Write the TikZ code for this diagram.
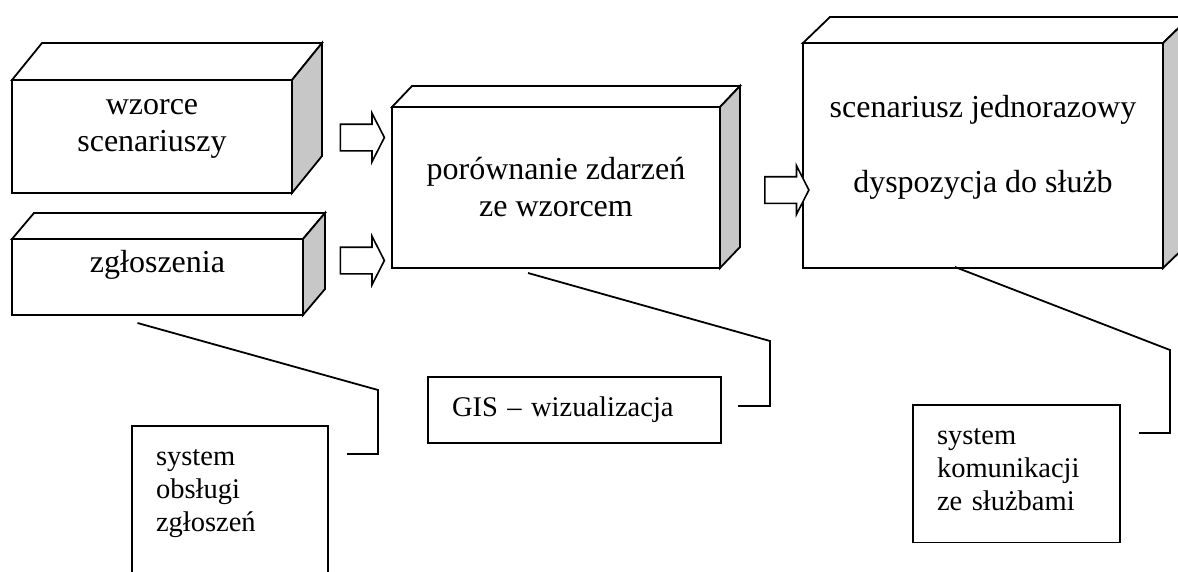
\documentclass[tikz,border=0pt]{standalone}
\usepackage{fontspec}
\setmainfont{Liberation Serif}
\usetikzlibrary{shapes.arrows,calc}

\definecolor{sidegray}{gray}{0.78}

\tikzset{
  block/.style={draw, line width=1.8pt, outer sep=0pt, inner sep=4pt, align=center, fill=white, font=\fontsize{32}{37}\selectfont},
  smallbox/.style={draw, line width=1.8pt, outer sep=0pt, anchor=north west, align=left, inner xsep=24pt, inner ysep=23pt, font=\fontsize{28.5}{33}\selectfont},
  face/.style={draw, line width=1.8pt, line join=miter},
  flowarrow/.style={single arrow, draw, fill=white, line width=1.6pt, inner sep=0pt, inner ysep=12.5pt, minimum height=44pt, single arrow head extend=11pt, single arrow tip angle=126},
  callout/.style={line width=1.8pt},
}

% top and side face of a block: node, dx, dy
\newcommand{\blockdepth}[3]{%
  \draw[face, fill=white] (#1.north west) -- ++(#2,-#3) -- ([shift={(#2,-#3)}]#1.north east) -- (#1.north east) -- cycle;
  \draw[face, fill=sidegray] (#1.north east) -- ([shift={(#2,-#3)}]#1.north east) -- ([shift={(#2,-#3)}]#1.south east) -- (#1.south east) -- cycle;
}

\begin{document}
\begin{tikzpicture}[x=1pt, y=-1pt]
  \useasboundingbox (0,0) rectangle (1178,571);
  \clip (0,0) rectangle (1178,571);

  % blocks
  \node[block, minimum width=280pt, minimum height=113pt, text depth=22pt] (wzorce) at (152,136.5) {wzorce\\scenariuszy};
  \node[block, minimum width=291pt, minimum height=76pt, text depth=31pt] (zglosz) at (157.5,277) {zgłoszenia};
  \node[block, minimum width=328pt, minimum height=161pt] (porown) at (556,187.5) {porównanie zdarzeń\\ze wzorcem};
  \node[block, minimum width=360pt, minimum height=225pt, text depth=23pt] (scen) at (983,155.5) {scenariusz jednorazowy\\[38pt]dyspozycja do służb};
  \blockdepth{wzorce}{30}{37}
  \blockdepth{zglosz}{22}{26}
  \blockdepth{porown}{20}{21}
  \blockdepth{scen}{27}{26}

  % arrows
  \node[flowarrow] (arr1) at (359,137.5) {};
  \node[flowarrow] (arr2) at (359,260.5) {};
  \node[flowarrow] (arr3) at (783.5,190) {};

  % systems
  \node[smallbox, text width=148pt, text depth=130pt] (obsl) at (132,426) {system\\obsługi\\zgłoszeń};
  \node[smallbox, text width=245pt, minimum height=66pt, inner ysep=0pt] (gis) at (428,377) {GIS – wizualizacja};
  \node[smallbox, text width=159pt, text depth=75.5pt] (komun) at (913,405) {system\\komunikacji\\ze służbami};

  \draw[callout] ([shift={(-20,8)}]zglosz.south) -- (378,390) |- ([shift={(19,28)}]obsl.north east);
  \draw[callout] ([shift={(-28,5)}]porown.south) -- (770,341) |- ([shift={(17,29)}]gis.north east);
  \draw[callout] ([shift={(-28,-1)}]scen.south) -- (1170,350) |- ([shift={(19,28)}]komun.north east);
\end{tikzpicture}
\end{document}
